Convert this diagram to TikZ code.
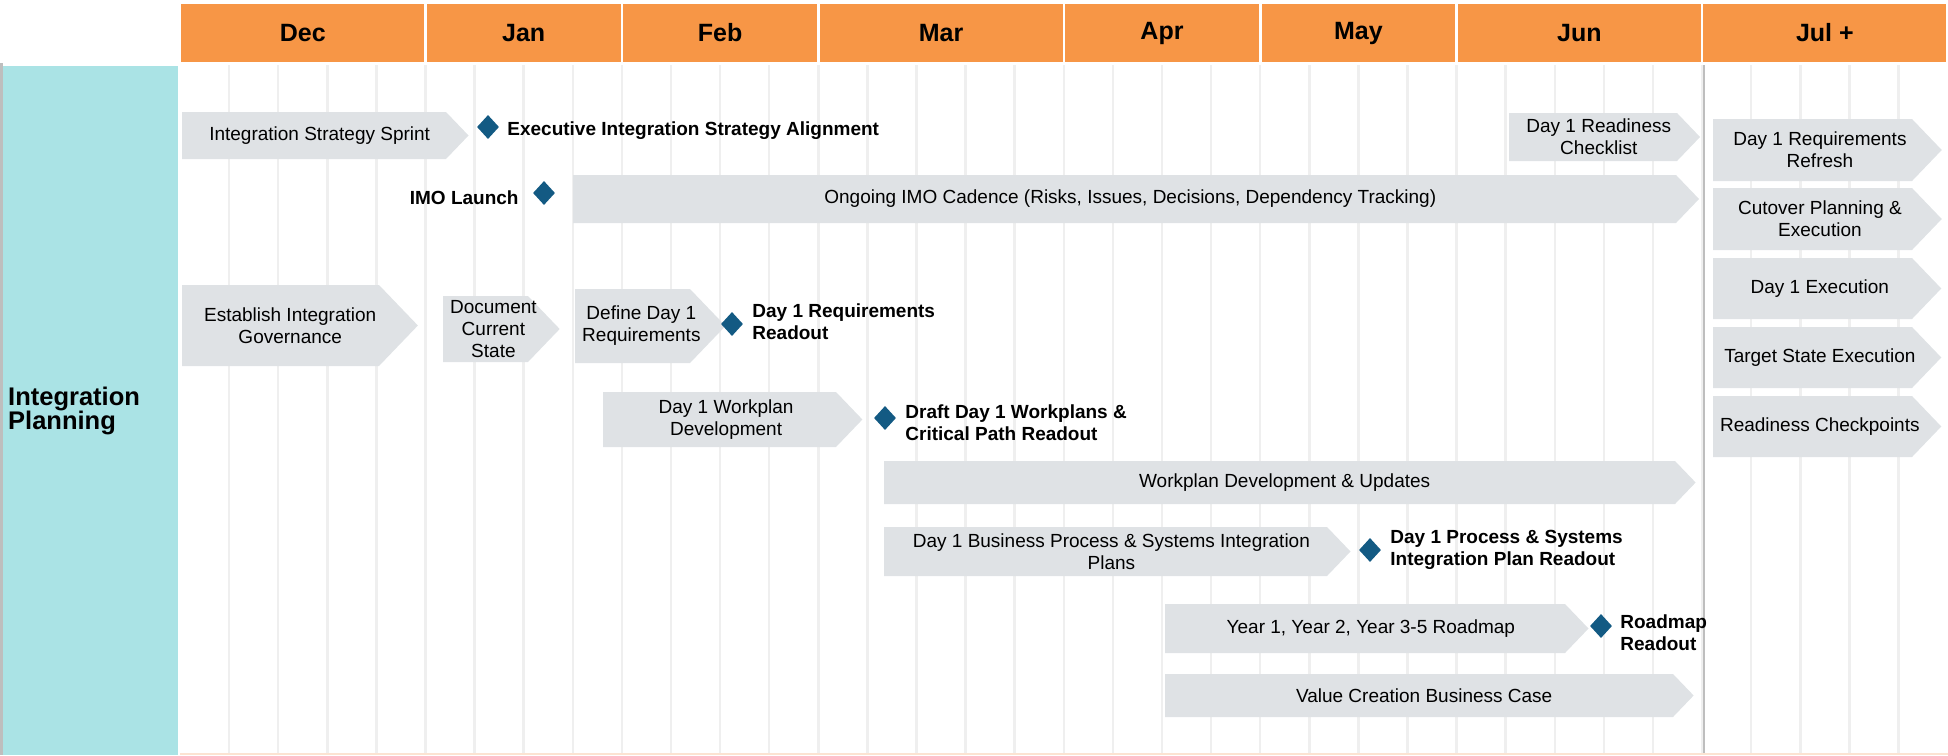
\documentclass[tikz,border=0pt]{standalone}
\usepackage{fontspec}
\setmainfont{Liberation Sans}
\usetikzlibrary{shapes.geometric,positioning,calc}
\definecolor{monthorange}{HTML}{F79646}
\definecolor{lanecyan}{HTML}{AAE3E5}
\definecolor{taskgray}{HTML}{DFE2E5}
\definecolor{mileblue}{HTML}{135A83}
\definecolor{weekline}{HTML}{EFEFEF}
\definecolor{cutline}{HTML}{BEBEBE}
\definecolor{footpeach}{HTML}{FCE3D2}

\tikzset{
  monthlabel/.style={font=\fontsize{25}{28}\selectfont\bfseries},
  lanelabel/.style={font=\fontsize{25.5}{23}\selectfont\bfseries, align=left, inner sep=0pt},
  tasktext/.style={font=\fontsize{19}{22}\selectfont, align=center, inner sep=0pt},
  miletext/.style={font=\fontsize{19}{22}\selectfont\bfseries, align=left, inner sep=0pt},
  milestone/.style={diamond, fill=mileblue, minimum width=22pt, minimum height=24pt, inner sep=0pt},
}

% chevron task bar: name, left, body end, top, bottom, text
\newcommand{\chevtask}[6]{%
  \pgfmathsetmacro{\tiplen}{0.48*(#5-#4)}
  \fill[taskgray] (#2,#4) -- (#3,#4) -- ({#3+\tiplen},{(#4+#5)/2}) -- (#3,#5) -- (#2,#5) -- cycle;
  \node[tasktext] (#1) at ({(#2+#3+\tiplen/2)/2},{(#4+#5)/2}) {#6};
}

\begin{document}
\begin{tikzpicture}[x=1pt,y=-1pt]
  \useasboundingbox (0,0) rectangle (1948,755);
  % Week grid
  \foreach \k in {1,...,35}
    \draw[weekline, line width=2.5pt] ({180+49.1*\k},65) -- ({180+49.1*\k},755);
  \draw[cutline, line width=2pt] (1703.6,65) -- (1703.6,755);
  \fill[footpeach] (180,752.5) rectangle (1948,755);
  % Month header
  \foreach \a/\b/\m [count=\i] in {0/5/Dec,5/9/Jan,9/13/Feb,13/18/Mar,18/22/Apr,22/26/May,26/31/Jun,31/36/Jul +} {
    \fill[monthorange] ({180+49.1*\a+1.3},4) rectangle ({180+49.1*\b-1.3},62);
    \node[monthlabel] (month\i) at ({180+49.1*(\a+\b)/2},33) {\m};
  }
  % Swim lane
  \fill[cutline] (0,63) rectangle (3,755);
  \fill[lanecyan] (3,66) rectangle (178,755);
  \node[lanelabel, anchor=west] (lane) at (8,411) {Integration\\Planning};
  % Tasks
  \chevtask{sprint}{182}{446}{112}{159}{Integration Strategy Sprint}
  \chevtask{cadence}{573}{1676}{175}{223}{Ongoing IMO Cadence (Risks, Issues, Decisions, Dependency Tracking)}
  \chevtask{checklist}{1509}{1677}{113}{161}{Day 1 Readiness\\Checklist}
  \chevtask{governance}{182}{379}{285}{366}{Establish Integration\\Governance}
  \chevtask{current}{443}{528}{296}{362}{Document\\Current\\State}
  \chevtask{define}{575}{690}{289}{363}{Define Day 1\\Requirements}
  \chevtask{workplan}{603}{836}{392}{447}{Day 1 Workplan\\Development}
  \chevtask{updates}{884}{1675}{461}{504}{Workplan Development \& Updates}
  \chevtask{bizproc}{884}{1327}{527}{576}{Day 1 Business Process \& Systems Integration\\Plans}
  \chevtask{roadmap}{1165}{1565}{604}{653}{Year 1, Year 2, Year 3-5 Roadmap}
  \chevtask{valuecase}{1165}{1673}{674}{717}{Value Creation Business Case}
  % After go-live
  \chevtask{refresh}{1713}{1912}{119}{181}{Day 1 Requirements\\Refresh}
  \chevtask{cutover}{1713}{1912}{188}{250}{Cutover Planning \&\\Execution}
  \chevtask{dayone}{1713}{1912}{258}{319}{Day 1 Execution}
  \chevtask{target}{1713}{1912}{327}{388}{Target State Execution}
  \chevtask{checkpoints}{1713}{1912}{396}{457}{Readiness Checkpoints}
  % Milestones
  \node[milestone] (exec) at (488,127) {};
  \node[miletext, right=8pt of exec, yshift=-4pt] (exec-t) {Executive Integration Strategy Alignment};
  \node[milestone] (imo) at (544,193) {};
  \node[miletext, left=14pt of imo, yshift=-4.5pt] (imo-t) {IMO Launch};
  \node[milestone] (reqout) at (732,324) {};
  \node[miletext, right=9pt of reqout, yshift=2pt] (reqout-t) {Day 1 Requirements\\Readout};
  \node[milestone] (draft) at (885,418) {};
  \node[miletext, right=9pt of draft, yshift=-5pt] (draft-t) {Draft Day 1 Workplans \&\\Critical Path Readout};
  \node[milestone] (procout) at (1370,550) {};
  \node[miletext, right=9pt of procout] (procout-t) {Day 1 Process \& Systems\\Integration Plan Readout};
  \node[milestone] (mapout) at (1601,626) {};
  \node[miletext, right=8pt of mapout, yshift=-7pt] (mapout-t) {Roadmap\\Readout};
\end{tikzpicture}
\end{document}
